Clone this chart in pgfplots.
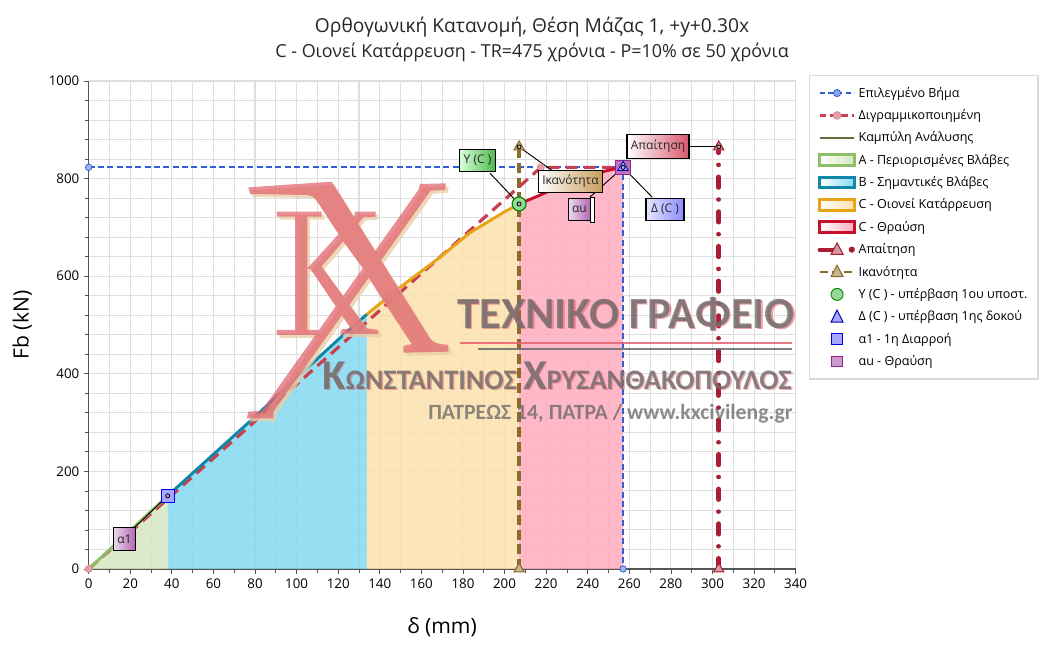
\documentclass[border=0pt]{standalone}
\usepackage{fontspec}
\setmainfont{Open Sans}
\newfontfamily\wmfont{Carlito}
\usepackage{pgfplots}
\pgfplotsset{compat=1.18}
\definecolor{cblue}{HTML}{2F5FD8}
\definecolor{cbil}{HTML}{C8404F}
\definecolor{cana}{HTML}{5F7040}
\definecolor{cA}{HTML}{8CC068}
\definecolor{cB}{HTML}{0F88A8}
\definecolor{cC}{HTML}{E8A317}
\definecolor{cD}{HTML}{C8102E}
\definecolor{cdem}{HTML}{A91E32}
\definecolor{ccap}{HTML}{8B6B2A}
\definecolor{fA}{HTML}{D6E6C2}
\definecolor{fB}{HTML}{84D9F1}
\definecolor{fC}{HTML}{FBE0AC}
\definecolor{fD}{HTML}{FFACBD}
\definecolor{gridc}{HTML}{DEDEDE}
\definecolor{axc}{HTML}{555555}
\definecolor{wmred}{HTML}{E2636E}
\definecolor{wmtan}{HTML}{E8D0A8}
\definecolor{wmgr}{HTML}{6A6A6A}
\definecolor{capbox}{HTML}{C89C5C}
\newcommand{\logopath}{
 (55,52) -- (305,35) -- (600,505) .. controls (615,520) .. (655,525) -- (655,545) -- (520,548) -- (520,528) -- (545,522) -- (455,385) -- (395,290) -- (340,215) -- (265,100) .. controls (250,78) .. (230,75) -- (60,72) -- cycle
 (570,42) -- (648,40) -- (645,60) -- (602,62) -- (130,725) -- (130,745) -- (50,745) -- (55,725) -- (95,722) -- (565,60) -- cycle
 (140,125) -- (275,125) -- (275,140) -- (232,140) -- (232,480) -- (272,480) -- (272,495) -- (140,495) -- (140,480) -- (195,480) -- (195,140) -- (140,140) -- cycle
 (375,125) -- (437,125) -- (437,140) -- (400,142) -- (262,305) -- (232,295) -- (372,142) -- cycle
 (240,295) -- (275,290) -- (410,475) -- (445,480) -- (445,492) -- (330,492) -- (335,478) -- (362,475) -- cycle
}
\newcommand{\lineT}{\fontsize{33.4}{33}\selectfont\bfseries ΤΕΧΝΙΚΟ ΓΡΑΦΕΙΟ}
\newcommand{\lineN}{\bfseries{\fontsize{32}{33}\selectfont Κ}{\fontsize{21.2}{22}\selectfont ΩΝΣΤΑΝΤΙΝΟΣ }{\fontsize{32}{33}\selectfont Χ}{\fontsize{21.2}{22}\selectfont ΡΥΣΑΝΘΑΚΟΠΟΥΛΟΣ}}
\newcommand{\lineA}{\fontsize{16.3}{17.5}\selectfont\bfseries ΠΑΤΡΕΩΣ 14, ΠΑΤΡΑ / www.kxcivileng.gr}
\begin{document}
\begin{tikzpicture}
\path[use as bounding box] (0,0) rectangle (787.5pt,487.5pt);
\begin{axis}[
  at={(66.5pt,60.75pt)}, anchor=south west,
  scale only axis, width=530.25pt, height=366pt,
  xmin=0, xmax=340, ymin=0, ymax=1000,
  axis lines=left, axis line style={-,axc,line width=0.9pt},
  xtick distance=20, ytick distance=200,
  minor x tick num=1, minor y tick num=4,
  tick align=outside, major tick length=3.5pt, minor tick length=3pt,
  tick style={axc,line width=0.6pt},
  grid=both, major grid style={gridc,line width=0.8pt}, minor grid style={gridc,line width=0.8pt},
  ticklabel style={font=\fontsize{10}{12}\selectfont, /pgf/number format/assume math mode=true, /pgf/number format/set thousands separator={}},
  xlabel={δ (mm)}, ylabel={Fb (kN)},
  xlabel style={font=\fontsize{15.8}{18}\selectfont, at={(0.5,0)}, anchor=north, yshift=-33pt},
  ylabel style={font=\fontsize{15.8}{18}\selectfont, at={(0,0.5)}, anchor=south, yshift=39pt},
  clip=false,
  legend cell align=left,
  legend style={at={(1.0188,1.0123)}, anchor=north west, draw=black!15, line width=1pt, font=\fontsize{9.4}{11}\selectfont, inner xsep=6pt, inner ysep=6.5pt, row sep=3.7pt, fill=white},
]
% legend
\addlegendimage{legend image code/.code={\draw[cblue,line width=1.8pt,dash pattern=on 4pt off 2.5pt] (0,0)--(26pt,0); \draw[cblue,fill=cblue!55,line width=.6pt] (13pt,0) circle (2.7pt);}}
\addlegendentry{Επιλεγμένο Βήμα}
\addlegendimage{legend image code/.code={\draw[cbil,line width=1.9pt,dash pattern=on 5pt off 3pt] (0,0)--(26pt,0); \draw[cbil!60,fill=cbil!50,line width=.6pt] (13pt,0) circle (2.9pt);}}
\addlegendentry{Διγραμμικοποιημένη}
\addlegendimage{legend image code/.code={\draw[cana,line width=1.5pt] (0,0)--(26pt,0);}}
\addlegendentry{Καμπύλη Ανάλυσης}
\addlegendimage{legend image code/.code={\draw[cA,line width=2.3pt,left color=white,right color=fA] (0,-4pt) rectangle (26pt,4pt);}}
\addlegendentry{Α - Περιορισμένες Βλάβες}
\addlegendimage{legend image code/.code={\draw[cB,line width=2.3pt,left color=white,right color=fB] (0,-4pt) rectangle (26pt,4pt);}}
\addlegendentry{Β - Σημαντικές Βλάβες}
\addlegendimage{legend image code/.code={\draw[cC,line width=2.3pt,left color=white,right color=fC] (0,-4pt) rectangle (26pt,4pt);}}
\addlegendentry{C - Οιονεί Κατάρρευση}
\addlegendimage{legend image code/.code={\draw[cD,line width=2.3pt,left color=white,right color=fD] (0,-4pt) rectangle (26pt,4pt);}}
\addlegendentry{C - Θραύση}
\addlegendimage{legend image code/.code={\draw[cdem,line width=3.2pt,line cap=round] (0,0)--(13pt,0); \fill[cdem] (24pt,0) circle (1.8pt); \draw[cdem,fill=cdem!45,line width=.8pt] (8.5pt,-3.5pt)--(17.5pt,-3.5pt)--(13pt,5pt)--cycle;}}
\addlegendentry{Απαίτηση}
\addlegendimage{legend image code/.code={\draw[ccap,line width=2pt,dash pattern=on 6pt off 3pt] (0,0)--(26pt,0); \draw[ccap,fill=ccap!50,line width=.8pt] (8.5pt,-3.5pt)--(17.5pt,-3.5pt)--(13pt,5pt)--cycle;}}
\addlegendentry{Ικανότητα}
\addlegendimage{legend image code/.code={\draw[green!55!black,fill=green!60!black!40,line width=.7pt] (13pt,0) circle (4.5pt);}}
\addlegendentry{Υ (C ) - υπέρβαση 1ου υποστ.\hspace{2pt}}
\addlegendimage{legend image code/.code={\draw[blue!70!black,fill=blue!35,line width=.7pt] (8.5pt,-4pt)--(17.5pt,-4pt)--(13pt,5pt)--cycle;}}
\addlegendentry{Δ (C ) - υπέρβαση 1ης δοκού}
\addlegendimage{legend image code/.code={\draw[blue!90!black,fill=blue!35,line width=.7pt] (9pt,-4pt) rectangle (17pt,4pt);}}
\addlegendentry{α1 - 1η Διαρροή}
\addlegendimage{legend image code/.code={\draw[violet!85!white,fill=violet!40,line width=.7pt] (9pt,-4pt) rectangle (17pt,4pt);}}
\addlegendentry{αu - Θραύση}
% fills
\addplot[forget plot,draw=none,fill=fA,fill opacity=.85] coordinates {(0,0)(38,150)(38,0)} \closedcycle;
\addplot[forget plot,draw=none,fill=fB,fill opacity=.85] coordinates {(38,0)(38,150)(60,235)(80,312)(100,392)(120,470)(133.8,522)(133.8,0)} \closedcycle;
\addplot[forget plot,draw=none,fill=fC,fill opacity=.85] coordinates {(133.8,0)(133.8,522)(150,578)(169,639)(183,688)(188,701)(200,732)(207,748)(207,0)} \closedcycle;
\addplot[forget plot,draw=none,fill=fD,fill opacity=.85] coordinates {(207,0)(207,748)(217,766)(233,797)(245,812)(254,821)(257,823)(257,0)} \closedcycle;
% reference lines
\addplot[forget plot,cblue,line width=1.4pt,dash pattern=on 4.5pt off 2.5pt] coordinates {(0,823)(257,823)(257,0)};
\addplot[forget plot,only marks,mark=*,mark size=2.4pt,mark options={draw=cblue,fill=cblue!45,line width=.6pt}] coordinates {(0,823)(257,0)};
\addplot[forget plot,ccap,line width=2.6pt,dash pattern=on 7.5pt off 3.5pt] coordinates {(207,0)(207,865)};
\addplot[forget plot,cdem,line width=3.4pt,line cap=round,dash pattern=on 8pt off 9pt on 0.01pt off 9pt] coordinates {(303,0)(303,865)};
\addplot[forget plot,cbil,line width=2.4pt,dash pattern=on 8.5pt off 5pt] coordinates {(0,0)(217.5,823)(257,823)};
% capacity curve
\addplot[forget plot,cana,line width=1pt] coordinates {(0,0)(38,150)(60,235)(80,312)(100,392)(120,470)(133.8,522)(150,578)(169,639)(183,688)(188,701)(200,732)(207,748)(217,766)(233,797)(245,812)(254,821)(257,823)};
\addplot[forget plot,cA,line width=2.2pt] coordinates {(0,0)(38,150)};
\addplot[forget plot,cB,line width=2.2pt] coordinates {(38,150)(60,235)(80,312)(100,392)(120,470)(133.8,522)};
\addplot[forget plot,cC,line width=2.2pt] coordinates {(133.8,522)(150,578)(169,639)(183,688)(188,701)(200,732)(207,748)};
\addplot[forget plot,cD,line width=2.2pt] coordinates {(207,748)(217,766)(233,797)(245,812)(254,821)(257,823)};
% connectors
\addplot[forget plot,black,line width=.7pt] coordinates {(38,150)(22,85)};
\addplot[forget plot,black,line width=.7pt] coordinates {(207,748)(193,811)};
\addplot[forget plot,black,line width=.7pt] coordinates {(207,865)(222.7,817)};
\addplot[forget plot,black,line width=.7pt] coordinates {(257,823)(241,762)};
\addplot[forget plot,black,line width=.7pt] coordinates {(257,823)(271,762)};
\addplot[forget plot,black,line width=.7pt] coordinates {(303,865)(285,865)};
% markers
\addplot[forget plot,only marks,mark=triangle*,mark size=4.4pt,mark options={draw=ccap,fill=ccap!50,line width=.8pt}] coordinates {(207,865)(207,0)};
\addplot[forget plot,only marks,mark=triangle*,mark size=4.4pt,mark options={draw=cdem,fill=cdem!45,line width=.8pt}] coordinates {(303,865)(303,0)};
\addplot[forget plot,only marks,mark=*,mark size=2.6pt,mark options={draw=cbil!60,fill=cbil!50,line width=.6pt}] coordinates {(0,0)(217.5,823)};
\addplot[forget plot,only marks,mark=*,mark size=5.2pt,mark options={draw=green!55!black,fill=green!60!black!40,line width=.9pt}] coordinates {(207,748)};
\addplot[forget plot,only marks,mark=square*,mark size=5.5pt,mark options={draw=violet!85!white,fill=violet!55,line width=.6pt}] coordinates {(257,823)};
\addplot[forget plot,only marks,mark=triangle*,mark size=4.6pt,mark options={draw=blue!70!black,fill=blue!35,line width=.6pt}] coordinates {(257,823)};
\addplot[forget plot,only marks,mark=square*,mark size=5pt,mark options={draw=blue!90!black,fill=blue!35,line width=.6pt}] coordinates {(38,150)};
\addplot[forget plot,only marks,mark=o,mark size=1.5pt,mark options={draw=black,line width=.6pt}] coordinates {(38,150)(207,748)(207,865)(257,823)(303,865)};
\end{axis}
\begin{scope}[shift={(0,487.5pt)},x=.75pt,y=-.75pt]
 % titles
 \node[font=\fontsize{14.4}{17}\selectfont,text=black!85] at (532,27) {Ορθογωνική Κατανομή, Θέση Μάζας 1, +y+0.30x};
 \node[font=\fontsize{13.45}{17}\selectfont,text=black!85] at (532,52) {C - Οιονεί Κατάρρευση - TR=475 χρόνια - P=10\% σε 50 χρόνια};
 % logo watermark
 \begin{scope}[shift={(230,170)},x=.25pt,y=-.25pt]
  \fill[wmtan,opacity=.8,shift={(8,9)}] \logopath;
  \fill[wmred,opacity=.72] \logopath;
 \end{scope}
 \draw[wmred,opacity=.85,line width=2.2pt] (460,343)--(792,343);
 \draw[wmgr,opacity=.85,line width=2.2pt] (478,349)--(792,349);
 \node[anchor=base west,inner sep=0,text=wmred,opacity=.6,font=\wmfont] at (458.5,330) {\lineT};
 \node[anchor=base west,inner sep=0,text=wmgr,opacity=.78,font=\wmfont] at (457,329) {\lineT};
 \node[anchor=base west,inner sep=0,text=wmred,opacity=.5,font=\wmfont] at (323.5,391) {\lineN};
 \node[anchor=base west,inner sep=0,text=wmgr,opacity=.78,font=\wmfont] at (322,390) {\lineN};
 \node[anchor=base west,inner sep=0,text=wmgr,opacity=.78,font=\wmfont] at (428,420) {\lineA};
 % callouts
 \tikzset{call/.style={draw=black,line width=.8pt,inner sep=0,minimum height=17pt,font=\fontsize{9}{11}\selectfont,text=black!85}}
 \node[call,left color=green!15,right color=green!60!black!70,minimum width=27.5pt] at (477.5,160.5) {Υ (C )};
 \node[call,left color=white,right color=capbox,minimum width=48pt] at (570.5,181.5) {Ικανότητα};
 \draw[black,fill=white,line width=.6pt] (590,197) rectangle (594,222);
 \node[call,left color=violet!15,right color=violet!60,minimum width=16.5pt] at (579.5,209.5) {αu};
 \node[call,left color=blue!10,right color=blue!45,minimum width=28.5pt] at (665,209.5) {Δ (C )};
 \node[call,left color=white,right color=cD!70,minimum width=46.5pt,minimum height=18pt] at (658,146.5) {Απαίτηση};
 \node[call,left color=violet!15,right color=violet!60,minimum width=17pt] at (124.5,539) {α1};
\end{scope}
\end{tikzpicture}
\end{document}
